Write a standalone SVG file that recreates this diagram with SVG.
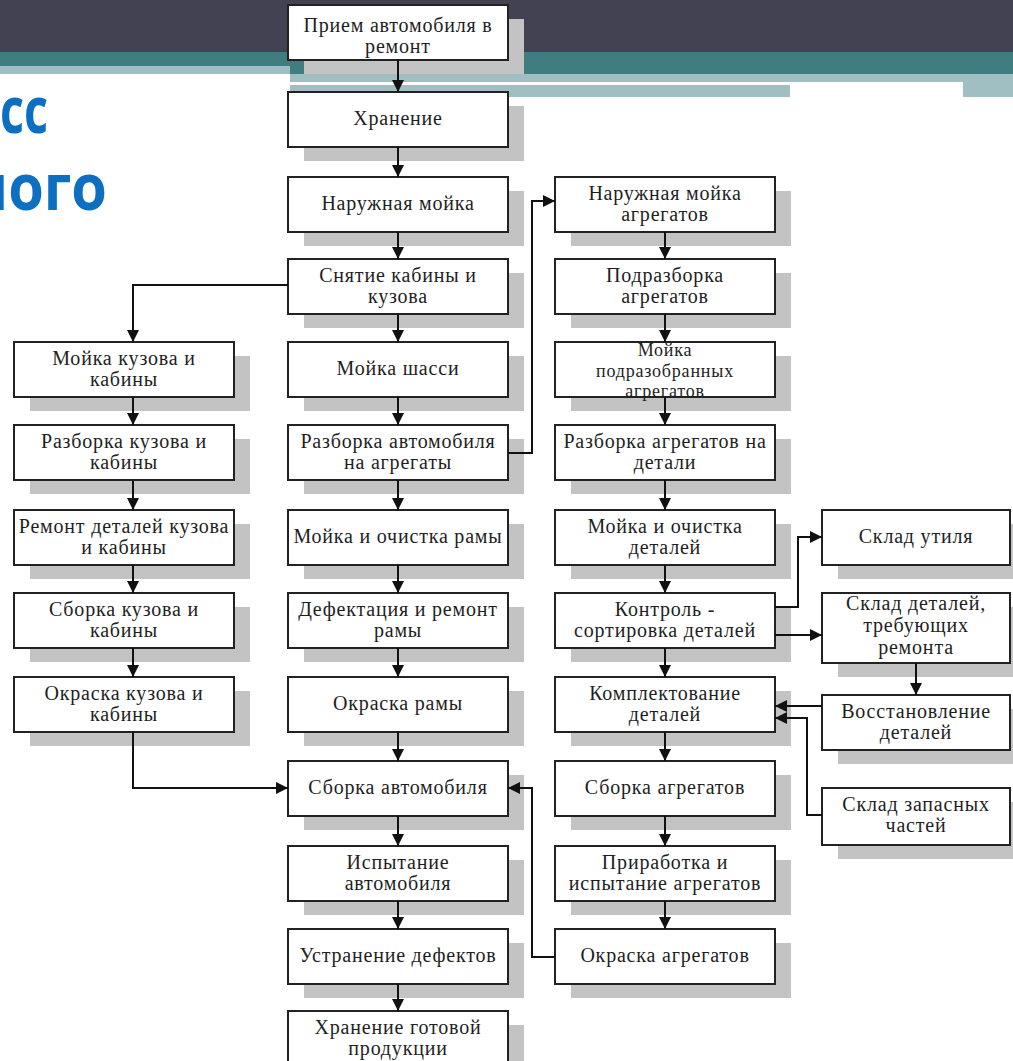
<svg xmlns="http://www.w3.org/2000/svg" width="1013" height="1061" viewBox="0 0 1013 1061">
<defs>
<marker id="ah" markerUnits="userSpaceOnUse" markerWidth="12" markerHeight="12" viewBox="0 0 12 12" refX="12" refY="6" orient="auto">
<path d="M0,0 L12,6 L0,12 Z" fill="#111"/>
</marker>
<style>
.bx{fill:#fff;stroke:#222;stroke-width:2}
.sh{fill:#c3c3c3}
.t{font-family:"Liberation Serif","Times New Roman",serif;font-size:20px;fill:#1e1e1e;text-anchor:middle;letter-spacing:0.8px}
.t.s{font-size:18px}
.ar{fill:none;stroke:#111;stroke-width:2;marker-end:url(#ah)}
.ttl{font-family:"Open Sans","Liberation Sans",sans-serif;font-weight:700;font-size:64px;fill:#0d6fc2}
</style>
</defs>
<rect width="1013" height="1061" fill="#fff"/>
<g id="header">
<rect x="0" y="0" width="1013" height="52" fill="#424253"/>
<rect x="0" y="52" width="1013" height="14" fill="#3f7d80"/>
<rect x="0" y="66" width="290" height="8" fill="#9fbfc2"/>
<rect x="290" y="66" width="723" height="8" fill="#3f7d80"/>
<rect x="290" y="74" width="723" height="8" fill="#9fbfc2"/>
<rect x="290" y="82" width="673" height="3" fill="#fff"/>
<rect x="290" y="85" width="500" height="12" fill="#9fbfc2"/>
<rect x="963" y="82" width="50" height="15" fill="#9fbfc2"/>
</g>
<g id="title">
<text class="ttl" x="0" y="133" textLength="48" lengthAdjust="spacingAndGlyphs">сс</text>
<text class="ttl" x="-30" y="210" textLength="137" lengthAdjust="spacingAndGlyphs">ного</text>
</g>
<g id="nodes">
<g id="c1"><rect class="sh" x="304" y="19" width="220" height="55"/><rect class="bx" x="288" y="5" width="220" height="55"/><text class="t" x="398" y="32">Прием автомобиля в</text><text class="t" x="398" y="53">ремонт</text></g>
<g id="c2"><rect class="sh" x="304" y="106" width="220" height="55"/><rect class="bx" x="288" y="92" width="220" height="55"/><text class="t" x="398" y="125">Хранение</text></g>
<g id="c3"><rect class="sh" x="304" y="191" width="220" height="55"/><rect class="bx" x="288" y="177" width="220" height="55"/><text class="t" x="398" y="210">Наружная мойка</text></g>
<g id="c4"><rect class="sh" x="304" y="273" width="220" height="55"/><rect class="bx" x="288" y="259" width="220" height="55"/><text class="t" x="398" y="282">Снятие кабины и</text><text class="t" x="398" y="303">кузова</text></g>
<g id="c5"><rect class="sh" x="304" y="356" width="220" height="55"/><rect class="bx" x="288" y="342" width="220" height="55"/><text class="t" x="398" y="375">Мойка шасси</text></g>
<g id="c6"><rect class="sh" x="304" y="439" width="220" height="55"/><rect class="bx" x="288" y="425" width="220" height="55"/><text class="t" x="398" y="448">Разборка автомобиля</text><text class="t" x="398" y="469">на агрегаты</text></g>
<g id="c7"><rect class="sh" x="304" y="524" width="220" height="55"/><rect class="bx" x="288" y="510" width="220" height="55"/><text class="t" x="398" y="543">Мойка и очистка рамы</text></g>
<g id="c8"><rect class="sh" x="304" y="607" width="220" height="55"/><rect class="bx" x="288" y="593" width="220" height="55"/><text class="t" x="398" y="616">Дефектация и ремонт</text><text class="t" x="398" y="637">рамы</text></g>
<g id="c9"><rect class="sh" x="304" y="691" width="220" height="55"/><rect class="bx" x="288" y="677" width="220" height="55"/><text class="t" x="398" y="710">Окраска рамы</text></g>
<g id="c10"><rect class="sh" x="304" y="775" width="220" height="55"/><rect class="bx" x="288" y="761" width="220" height="55"/><text class="t" x="398" y="794">Сборка автомобиля</text></g>
<g id="c11"><rect class="sh" x="304" y="860" width="220" height="55"/><rect class="bx" x="288" y="846" width="220" height="55"/><text class="t" x="398" y="869">Испытание</text><text class="t" x="398" y="890">автомобиля</text></g>
<g id="c12"><rect class="sh" x="304" y="943" width="220" height="55"/><rect class="bx" x="288" y="929" width="220" height="55"/><text class="t" x="398" y="962">Устранение дефектов</text></g>
<g id="c13"><rect class="sh" x="304" y="1025" width="220" height="55"/><rect class="bx" x="288" y="1011" width="220" height="55"/><text class="t" x="398" y="1034">Хранение готовой</text><text class="t" x="398" y="1055">продукции</text></g>
<g id="l1"><rect class="sh" x="30" y="356" width="220" height="55"/><rect class="bx" x="14" y="342" width="220" height="55"/><text class="t" x="124" y="365">Мойка кузова и</text><text class="t" x="124" y="386">кабины</text></g>
<g id="l2"><rect class="sh" x="30" y="439" width="220" height="55"/><rect class="bx" x="14" y="425" width="220" height="55"/><text class="t" x="124" y="448">Разборка кузова и</text><text class="t" x="124" y="469">кабины</text></g>
<g id="l3"><rect class="sh" x="30" y="524" width="220" height="55"/><rect class="bx" x="14" y="510" width="220" height="55"/><text class="t" x="124" y="533">Ремонт деталей кузова</text><text class="t" x="124" y="554">и кабины</text></g>
<g id="l4"><rect class="sh" x="30" y="607" width="220" height="55"/><rect class="bx" x="14" y="593" width="220" height="55"/><text class="t" x="124" y="616">Сборка кузова и</text><text class="t" x="124" y="637">кабины</text></g>
<g id="l5"><rect class="sh" x="30" y="691" width="220" height="55"/><rect class="bx" x="14" y="677" width="220" height="55"/><text class="t" x="124" y="700">Окраска кузова и</text><text class="t" x="124" y="721">кабины</text></g>
<g id="r1"><rect class="sh" x="571" y="191" width="220" height="55"/><rect class="bx" x="555" y="177" width="220" height="55"/><text class="t" x="665" y="200">Наружная мойка</text><text class="t" x="665" y="221">агрегатов</text></g>
<g id="r2"><rect class="sh" x="571" y="273" width="220" height="55"/><rect class="bx" x="555" y="259" width="220" height="55"/><text class="t" x="665" y="282">Подразборка</text><text class="t" x="665" y="303">агрегатов</text></g>
<g id="r3"><rect class="sh" x="571" y="356" width="220" height="55"/><rect class="bx" x="555" y="342" width="220" height="55"/><text class="t s" x="665" y="356">Мойка</text><text class="t s" x="665" y="376.5">подразобранных</text><text class="t s" x="665" y="397">агрегатов</text></g>
<g id="r4"><rect class="sh" x="571" y="439" width="220" height="55"/><rect class="bx" x="555" y="425" width="220" height="55"/><text class="t" x="665" y="448">Разборка агрегатов на</text><text class="t" x="665" y="469">детали</text></g>
<g id="r5"><rect class="sh" x="571" y="524" width="220" height="55"/><rect class="bx" x="555" y="510" width="220" height="55"/><text class="t" x="665" y="533">Мойка и очистка</text><text class="t" x="665" y="554">деталей</text></g>
<g id="r6"><rect class="sh" x="571" y="607" width="220" height="55"/><rect class="bx" x="555" y="593" width="220" height="55"/><text class="t" x="665" y="616">Контроль -</text><text class="t" x="665" y="637">сортировка деталей</text></g>
<g id="r7"><rect class="sh" x="571" y="691" width="220" height="55"/><rect class="bx" x="555" y="677" width="220" height="55"/><text class="t" x="665" y="700">Комплектование</text><text class="t" x="665" y="721">деталей</text></g>
<g id="r8"><rect class="sh" x="571" y="775" width="220" height="55"/><rect class="bx" x="555" y="761" width="220" height="55"/><text class="t" x="665" y="794">Сборка агрегатов</text></g>
<g id="r9"><rect class="sh" x="571" y="860" width="220" height="55"/><rect class="bx" x="555" y="846" width="220" height="55"/><text class="t" x="665" y="869">Приработка и</text><text class="t" x="665" y="890">испытание агрегатов</text></g>
<g id="r10"><rect class="sh" x="571" y="943" width="220" height="55"/><rect class="bx" x="555" y="929" width="220" height="55"/><text class="t" x="665" y="962">Окраска агрегатов</text></g>
<g id="f1"><rect class="sh" x="838" y="524" width="188" height="55"/><rect class="bx" x="822" y="510" width="188" height="55"/><text class="t" x="916" y="543">Склад утиля</text></g>
<g id="f2"><rect class="sh" x="838" y="607" width="188" height="70"/><rect class="bx" x="822" y="593" width="188" height="70"/><text class="t" x="916" y="610">Склад деталей,</text><text class="t" x="916" y="632">требующих</text><text class="t" x="916" y="654">ремонта</text></g>
<g id="f3"><rect class="sh" x="838" y="709" width="188" height="55"/><rect class="bx" x="822" y="695" width="188" height="55"/><text class="t" x="916" y="718">Восстановление</text><text class="t" x="916" y="739">деталей</text></g>
<g id="f4"><rect class="sh" x="838" y="802" width="188" height="57"/><rect class="bx" x="822" y="788" width="188" height="57"/><text class="t" x="916" y="811">Склад запасных</text><text class="t" x="916" y="832">частей</text></g>
</g>
<g id="connectors">
<path class="ar" d="M398,60 V92"/>
<path class="ar" d="M398,147 V177"/>
<path class="ar" d="M398,232 V259"/>
<path class="ar" d="M398,314 V342"/>
<path class="ar" d="M398,397 V425"/>
<path class="ar" d="M398,480 V510"/>
<path class="ar" d="M398,565 V593"/>
<path class="ar" d="M398,648 V677"/>
<path class="ar" d="M398,732 V761"/>
<path class="ar" d="M398,816 V846"/>
<path class="ar" d="M398,901 V929"/>
<path class="ar" d="M398,984 V1011"/>
<path class="ar" d="M288,285 H133 V342"/>
<path class="ar" d="M133,397 V425"/>
<path class="ar" d="M133,481 V510"/>
<path class="ar" d="M133,565 V593"/>
<path class="ar" d="M133,648 V677"/>
<path class="ar" d="M133,732 V788 H288"/>
<path class="ar" d="M508,453 H532 V201 H555"/>
<path class="ar" d="M665,232 V259"/>
<path class="ar" d="M665,314 V342"/>
<path class="ar" d="M665,397 V425"/>
<path class="ar" d="M665,480 V510"/>
<path class="ar" d="M665,565 V593"/>
<path class="ar" d="M665,648 V677"/>
<path class="ar" d="M665,732 V761"/>
<path class="ar" d="M665,816 V846"/>
<path class="ar" d="M665,901 V929"/>
<path class="ar" d="M775,607 H798 V537 H822"/>
<path class="ar" d="M775,635 H822"/>
<path class="ar" d="M916,663 V695"/>
<path class="ar" d="M822,706 H775"/>
<path class="ar" d="M822,815 H807 V718 H775"/>
<path class="ar" d="M555,957 H532 V788 H508"/>
</g>
</svg>
